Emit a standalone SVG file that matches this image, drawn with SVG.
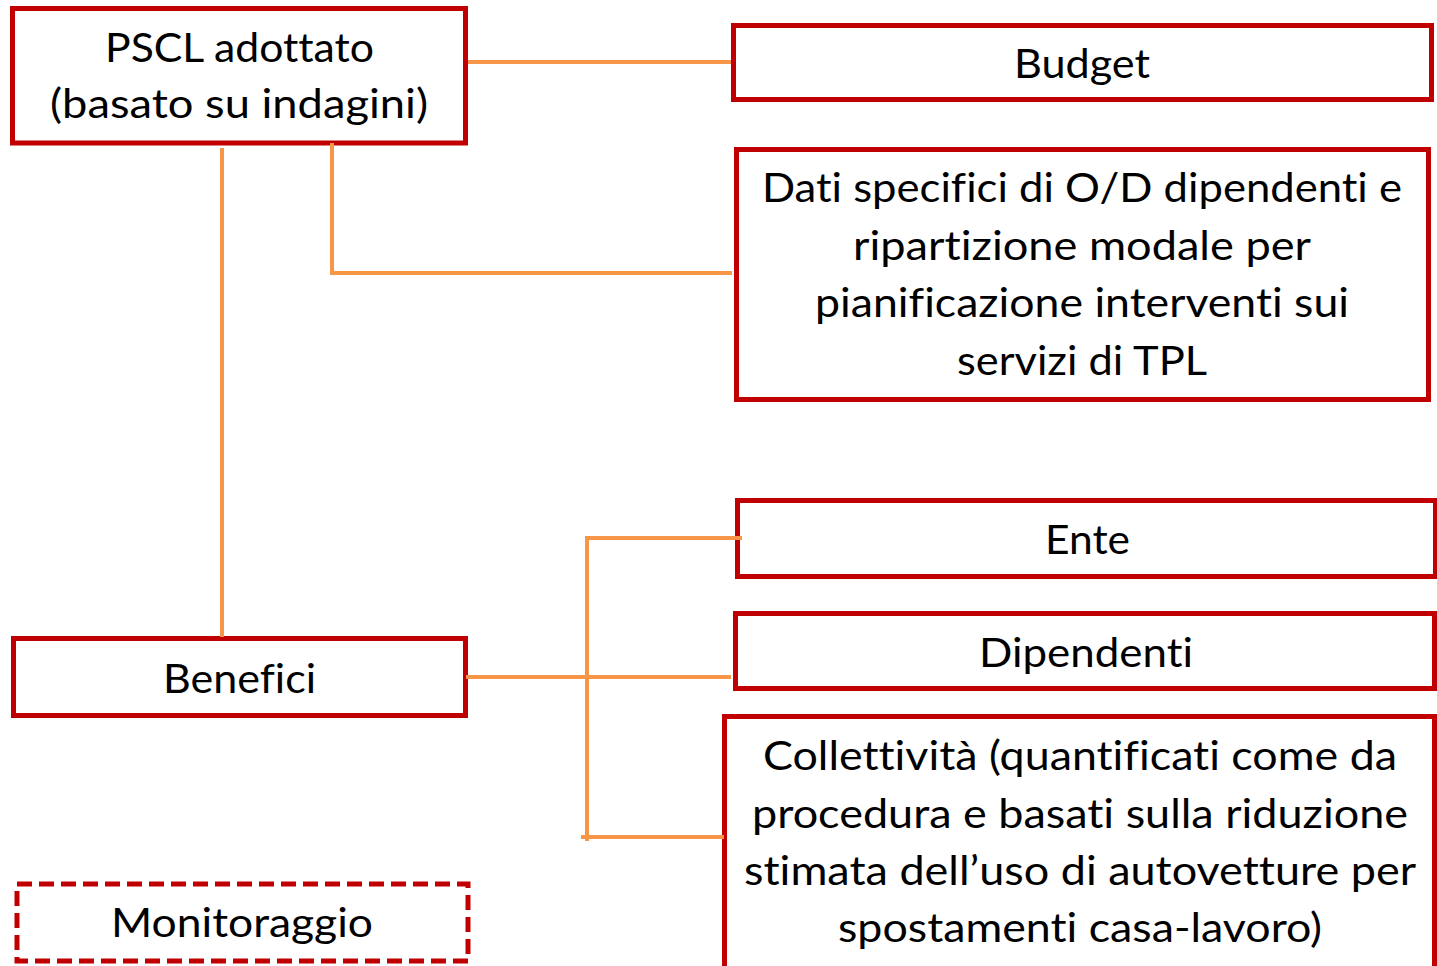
<svg xmlns="http://www.w3.org/2000/svg" width="1437" height="966" viewBox="0 0 1437 966">
<style>
.box{fill:#FFFFFF;stroke:#C00000;stroke-width:5}
.dash{fill:#FFFFFF;stroke:#C00000;stroke-width:5;stroke-dasharray:15 7}
.t{font-family:Lato,"Open Sans","Liberation Sans",sans-serif;font-size:41px;fill:#000000;text-anchor:middle;font-variant-ligatures:none;font-feature-settings:"liga" 0,"clig" 0,"dlig" 0}
.c{fill:none;stroke:#F79646;stroke-width:4}
</style>
<rect width="1437" height="966" fill="#FFFFFF"/>
<g id="pscl">
<rect class="box" x="12.5" y="8.5" width="453" height="134.5"/>
<text class="t" x="239.5" y="62" textLength="269" lengthAdjust="spacingAndGlyphs">PSCL adottato</text>
<text class="t" x="239" y="118" textLength="378" lengthAdjust="spacingAndGlyphs">(basato su indagini)</text>
</g>
<g id="budget">
<rect class="box" x="733.5" y="25.5" width="698" height="74"/>
<text class="t" x="1082" y="78" textLength="136" lengthAdjust="spacingAndGlyphs">Budget</text>
</g>
<g id="dati">
<rect class="box" x="736.5" y="149.5" width="692" height="250"/>
<text class="t" x="1082" y="202" textLength="640" lengthAdjust="spacingAndGlyphs">Dati specifici di O/D dipendenti e</text>
<text class="t" x="1082" y="259.5" textLength="458" lengthAdjust="spacingAndGlyphs">ripartizione modale per</text>
<text class="t" x="1082" y="317" textLength="534" lengthAdjust="spacingAndGlyphs">pianificazione interventi sui</text>
<text class="t" x="1082" y="374.5" textLength="250" lengthAdjust="spacingAndGlyphs">servizi di TPL</text>
</g>
<g id="benefici">
<rect class="box" x="13.5" y="638.5" width="452" height="77"/>
<text class="t" x="239.5" y="693" textLength="153" lengthAdjust="spacingAndGlyphs">Benefici</text>
</g>
<g id="ente">
<rect class="box" x="737.5" y="500.5" width="698" height="76"/>
<text class="t" x="1087.5" y="554" textLength="85" lengthAdjust="spacingAndGlyphs">Ente</text>
</g>
<g id="dipendenti">
<rect class="box" x="735.5" y="613.5" width="699" height="75"/>
<text class="t" x="1086" y="667" textLength="214" lengthAdjust="spacingAndGlyphs">Dipendenti</text>
</g>
<g id="collettivita">
<rect class="box" x="724.5" y="716.5" width="710" height="260"/>
<text class="t" x="1080" y="770" textLength="634" lengthAdjust="spacingAndGlyphs">Collettività (quantificati come da</text>
<text class="t" x="1080" y="827.5" textLength="656" lengthAdjust="spacingAndGlyphs">procedura e basati sulla riduzione</text>
<text class="t" x="1080" y="885" textLength="672" lengthAdjust="spacingAndGlyphs">stimata dell’uso di autovetture per</text>
<text class="t" x="1080" y="942" textLength="484" lengthAdjust="spacingAndGlyphs">spostamenti casa-lavoro)</text>
</g>
<g id="monitoraggio">
<rect class="dash" x="17" y="884" width="451" height="77"/>
<text class="t" x="242" y="937" textLength="262" lengthAdjust="spacingAndGlyphs">Monitoraggio</text>
</g>
<g id="connectors">
<path class="c" d="M468 62 H731"/>
<path class="c" d="M332 143 V273 H732"/>
<path class="c" d="M222 148 V637"/>
<path class="c" d="M466 677 H731"/>
<path class="c" d="M587 536 V841"/>
<path class="c" d="M587 538 H742"/>
<path class="c" d="M581 837 H724"/>
</g>
</svg>
